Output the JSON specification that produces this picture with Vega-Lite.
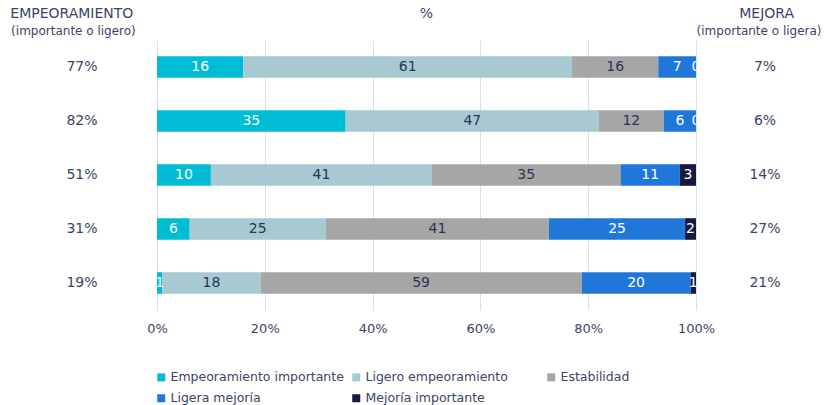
{
  "$schema": "https://vega.github.io/schema/vega-lite/v6.json",
  "padding": 0,
  "autosize": {"type": "pad"},
  "background": "white",
  "config": {
    "view": {"stroke": null},
    "font": "DejaVu Sans",
    "text": {"font": "DejaVu Sans"},
    "concat": {"spacing": 0}
  },
  "datasets": {
    "bars": [
      {"row": "r1", "cat": "Empeoramiento importante", "k": 1, "v": 16},
      {"row": "r1", "cat": "Ligero empeoramiento", "k": 2, "v": 61},
      {"row": "r1", "cat": "Estabilidad", "k": 3, "v": 16},
      {"row": "r1", "cat": "Ligera mejoría", "k": 4, "v": 7},
      {"row": "r1", "cat": "Mejoría importante", "k": 5, "v": 0},
      {"row": "r2", "cat": "Empeoramiento importante", "k": 1, "v": 35},
      {"row": "r2", "cat": "Ligero empeoramiento", "k": 2, "v": 47},
      {"row": "r2", "cat": "Estabilidad", "k": 3, "v": 12},
      {"row": "r2", "cat": "Ligera mejoría", "k": 4, "v": 6},
      {"row": "r2", "cat": "Mejoría importante", "k": 5, "v": 0},
      {"row": "r3", "cat": "Empeoramiento importante", "k": 1, "v": 10},
      {"row": "r3", "cat": "Ligero empeoramiento", "k": 2, "v": 41},
      {"row": "r3", "cat": "Estabilidad", "k": 3, "v": 35},
      {"row": "r3", "cat": "Ligera mejoría", "k": 4, "v": 11},
      {"row": "r3", "cat": "Mejoría importante", "k": 5, "v": 3},
      {"row": "r4", "cat": "Empeoramiento importante", "k": 1, "v": 6},
      {"row": "r4", "cat": "Ligero empeoramiento", "k": 2, "v": 25},
      {"row": "r4", "cat": "Estabilidad", "k": 3, "v": 41},
      {"row": "r4", "cat": "Ligera mejoría", "k": 4, "v": 25},
      {"row": "r4", "cat": "Mejoría importante", "k": 5, "v": 2},
      {"row": "r5", "cat": "Empeoramiento importante", "k": 1, "v": 1},
      {"row": "r5", "cat": "Ligero empeoramiento", "k": 2, "v": 18},
      {"row": "r5", "cat": "Estabilidad", "k": 3, "v": 59},
      {"row": "r5", "cat": "Ligera mejoría", "k": 4, "v": 20},
      {"row": "r5", "cat": "Mejoría importante", "k": 5, "v": 1}
    ],
    "sides": [
      {"row": "r1", "side": "left", "pos": -0.1392, "label": "77%"},
      {"row": "r2", "side": "left", "pos": -0.1392, "label": "82%"},
      {"row": "r3", "side": "left", "pos": -0.1392, "label": "51%"},
      {"row": "r4", "side": "left", "pos": -0.1392, "label": "31%"},
      {"row": "r5", "side": "left", "pos": -0.1392, "label": "19%"},
      {"row": "r1", "side": "right", "pos": 1.128, "label": "7%"},
      {"row": "r2", "side": "right", "pos": 1.128, "label": "6%"},
      {"row": "r3", "side": "right", "pos": 1.128, "label": "14%"},
      {"row": "r4", "side": "right", "pos": 1.128, "label": "27%"},
      {"row": "r5", "side": "right", "pos": 1.128, "label": "21%"}
    ],
    "headers": [
      {"line": "1", "pos": -0.158, "label": "EMPEORAMIENTO"},
      {"line": "2", "pos": -0.155, "label": "(importante o ligero)"},
      {"line": "1", "pos": 0.5, "label": "%"},
      {"line": "1", "pos": 1.131, "label": "MEJORA"},
      {"line": "2", "pos": 1.117, "label": "(importante o ligera)"}
    ]
  },
  "vconcat": [
    {
      "width": 837,
      "height": 40,
      "data": {"name": "headers"},
      "layer": [
        {
          "transform": [{"filter": "datum.line == '1'"}],
          "mark": {"type": "text", "fontSize": 14, "color": "#3B4466", "baseline": "middle", "dy": 4},
          "encoding": {
            "x": {"field": "pos", "type": "quantitative", "scale": {"domain": [-0.2913, 1.2616], "nice": false, "zero": false}, "axis": null},
            "y": {"field": "line", "type": "nominal", "scale": {"domain": ["1", "2"], "paddingInner": 0, "paddingOuter": 0}, "axis": null},
            "text": {"field": "label"}
          }
        },
        {
          "transform": [{"filter": "datum.line == '2'"}],
          "mark": {"type": "text", "fontSize": 12, "color": "#3B4466", "baseline": "middle", "dy": 1},
          "encoding": {
            "x": {"field": "pos", "type": "quantitative", "scale": {"domain": [-0.2913, 1.2616], "nice": false, "zero": false}, "axis": null},
            "y": {"field": "line", "type": "nominal", "scale": {"domain": ["1", "2"], "paddingInner": 0, "paddingOuter": 0}, "axis": null},
            "text": {"field": "label"}
          }
        }
      ]
    },
    {
      "width": 837,
      "height": 270,
      "layer": [
        {
          "data": {"name": "bars"},
          "mark": {"type": "bar"},
          "encoding": {
            "y": {"field": "row", "type": "nominal", "sort": null, "scale": {"domain": ["r1", "r2", "r3", "r4", "r5"], "paddingInner": 0.6, "paddingOuter": 0.3}, "axis": null},
            "x": {
              "field": "v", "type": "quantitative", "stack": "normalize",
              "scale": {"domain": [-0.2913, 1.2616], "nice": false, "zero": false},
              "axis": {
                "values": [0, 0.2, 0.4, 0.6, 0.8, 1],
                "format": "%",
                "title": null,
                "domain": false,
                "ticks": false,
                "grid": true,
                "gridColor": "#D9DFF3",
                "gridWidth": 1,
                "labelFontSize": 13,
                "labelColor": "#3B4466",
                "labelPadding": 12,
                "labelFont": "DejaVu Sans"
              }
            },
            "color": {
              "field": "cat", "type": "nominal",
              "scale": {
                "domain": ["Empeoramiento importante", "Ligero empeoramiento", "Estabilidad", "Ligera mejoría", "Mejoría importante"],
                "range": ["#00BCD4", "#A7C9D1", "#A6A6A6", "#1F77D9", "#141A40"]
              },
              "legend": {
                "title": null,
                "orient": "none",
                "legendX": 155,
                "legendY": 371,
                "direction": "horizontal",
                "columns": 3,
                "gridAlign": "all",
                "columnPadding": 6,
                "rowPadding": 8,
                "symbolType": "square",
                "symbolSize": 64,
                "symbolStrokeWidth": 0,
                "labelFontSize": 12.5,
                "labelLimit": 300,
                "labelColor": "#3B4466",
                "labelFont": "DejaVu Sans",
                "labelOffset": 3
              }
            },
            "order": {"field": "k", "type": "quantitative"}
          }
        },
        {
          "data": {"name": "bars"},
          "mark": {"type": "text", "fontSize": 14, "baseline": "middle", "clip": true},
          "encoding": {
            "y": {"field": "row", "type": "nominal", "sort": null},
            "x": {"field": "v", "type": "quantitative", "stack": "normalize", "bandPosition": 0.5},
            "detail": {"field": "cat"},
            "order": {"field": "k", "type": "quantitative"},
            "text": {"field": "v", "type": "quantitative"},
            "color": {
              "condition": {"test": "datum.k == 2 || datum.k == 3", "value": "#2A3457"},
              "value": "white"
            }
          }
        },
        {
          "data": {"name": "sides"},
          "mark": {"type": "text", "fontSize": 14, "baseline": "middle", "color": "#3B4466"},
          "encoding": {
            "y": {"field": "row", "type": "nominal", "sort": null},
            "x": {"field": "pos", "type": "quantitative"},
            "text": {"field": "label"}
          }
        }
      ]
    }
  ]
}
